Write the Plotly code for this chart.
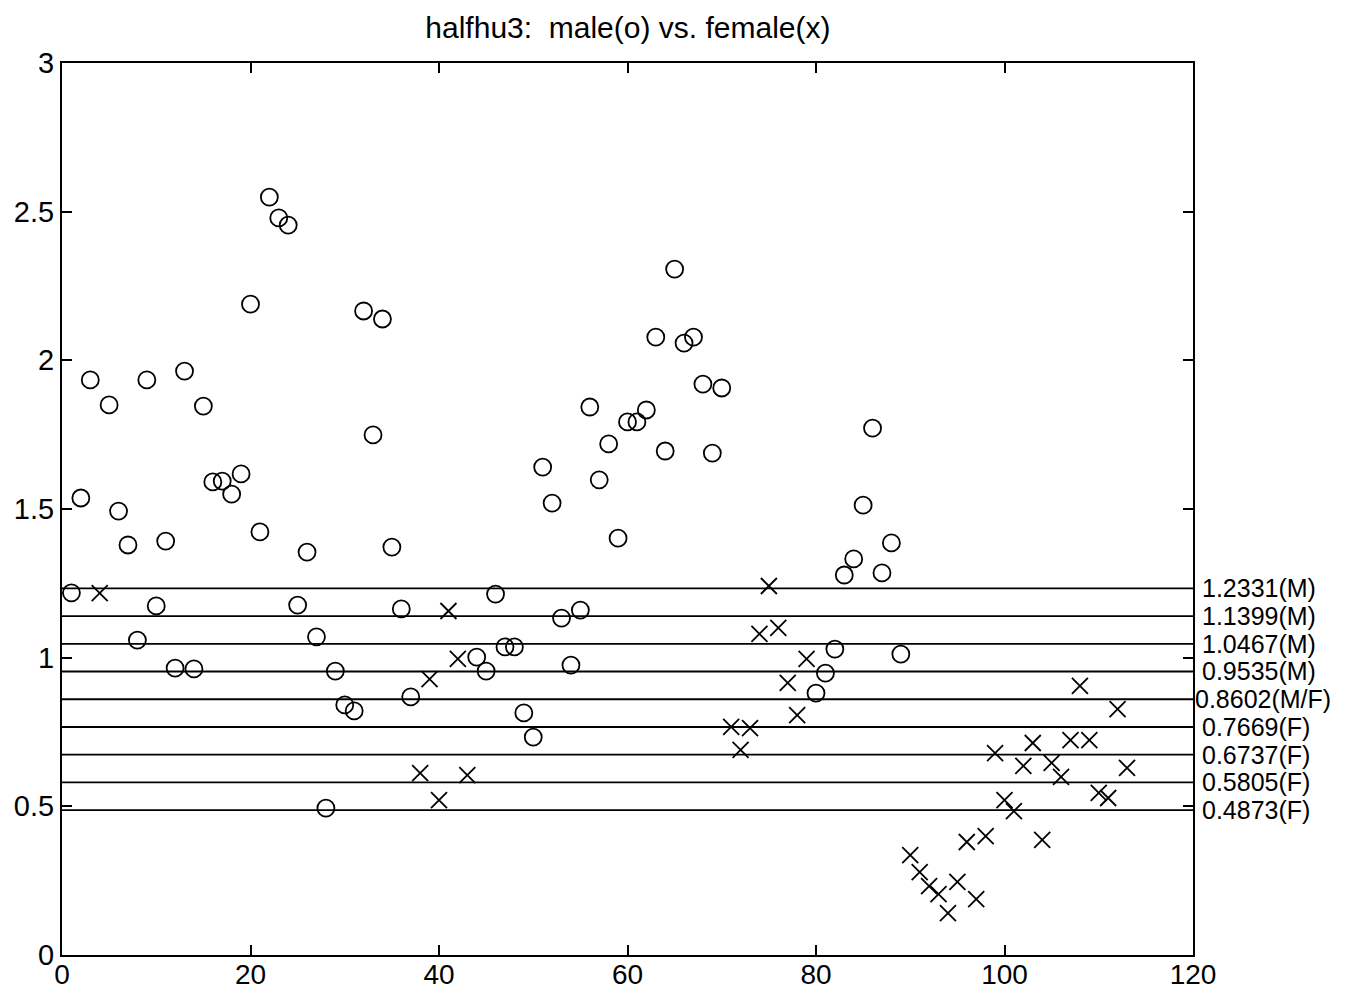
import plotly.graph_objects as go

# Male samples (circles): index, value
male_x = [1, 2, 3, 5, 6, 7, 8, 9, 10, 11, 12, 13, 14, 15, 16, 17, 18, 19, 20, 21,
          22, 23, 24, 25, 26, 27, 28, 29, 30, 31, 32, 33, 34, 35, 36, 37,
          44, 45, 46, 47, 48, 49, 50, 51, 52, 53, 54, 55, 56, 57, 58, 59, 60,
          61, 62, 63, 64, 65, 66, 67, 68, 69, 70,
          80, 81, 82, 83, 84, 85, 86, 87, 88, 89]
male_y = [1.218, 1.537, 1.934, 1.850, 1.493, 1.379, 1.059, 1.934, 1.174, 1.392,
          0.965, 1.964, 0.962, 1.846, 1.591, 1.594, 1.550, 1.618, 2.189, 1.423,
          2.549, 2.479, 2.455, 1.177, 1.355, 1.070, 0.494, 0.955, 0.841, 0.821,
          2.166, 1.749, 2.139, 1.372, 1.164, 0.868,
          1.002, 0.955, 1.214, 1.036, 1.036, 0.814, 0.733, 1.641, 1.520, 1.133,
          0.975, 1.160, 1.843, 1.598, 1.719, 1.402, 1.793,
          1.793, 1.833, 2.078, 1.695, 2.307, 2.058, 2.078, 1.920, 1.688, 1.907,
          0.881, 0.948, 1.029, 1.278, 1.332, 1.513, 1.772, 1.285, 1.386, 1.012]

# Female samples (crosses): index, value
female_x = [4, 38, 39, 40, 41, 42, 43, 71, 72, 73, 74, 75, 76, 77, 78, 79,
            90, 91, 92, 93, 94, 95, 96, 97, 98, 99, 100, 101, 102, 103, 104,
            105, 106, 107, 108, 109, 110, 111, 112, 113]
female_y = [1.217, 0.612, 0.928, 0.521, 1.157, 0.996, 0.605, 0.767, 0.690, 0.763,
            1.080, 1.241, 1.100, 0.915, 0.807, 0.996,
            0.336, 0.279, 0.232, 0.205, 0.141, 0.246, 0.380, 0.188, 0.400, 0.679,
            0.521, 0.484, 0.636, 0.713, 0.387, 0.646, 0.599, 0.723, 0.905, 0.723,
            0.545, 0.528, 0.827, 0.629]

# Threshold lines and their labels
thresholds = [1.2331, 1.1399, 1.0467, 0.9535, 0.8602, 0.7669, 0.6737, 0.5805, 0.4873]
threshold_labels = ["1.2331(M)", "1.1399(M)", "1.0467(M)", "0.9535(M)", "0.8602(M/F)",
                    "0.7669(F)", "0.6737(F)", "0.5805(F)", "0.4873(F)"]

x_range = [0, 120]
y_range = [0, 3]
x_ticks = [0, 20, 40, 60, 80, 100, 120]
y_ticks = [0, 0.5, 1, 1.5, 2, 2.5, 3]
y_tick_text = ["0", "0.5", "1", "1.5", "2", "2.5", "3"]

FONT = "Liberation Sans, Arial, Helvetica, sans-serif"

fig = go.Figure()

for t in thresholds:
    fig.add_trace(go.Scatter(x=x_range, y=[t, t], mode="lines",
                             line=dict(color="black", width=1.8),
                             showlegend=False, hoverinfo="skip"))

fig.add_trace(go.Scatter(x=male_x, y=male_y, mode="markers", name="male",
                         marker=dict(symbol="circle-open", size=17, color="black",
                                     line=dict(width=1.8, color="black")),
                         showlegend=False))
fig.add_trace(go.Scatter(x=female_x, y=female_y, mode="markers", name="female",
                         marker=dict(symbol="x-thin-open", size=16, color="black",
                                     line=dict(width=1.8, color="black")),
                         showlegend=False))

for t, lab in zip(thresholds, threshold_labels):
    shift = 1 if "M/F" in lab else 8
    fig.add_annotation(x=1, xref="paper", y=t, yref="y", text=lab,
                       showarrow=False, xanchor="left", yanchor="middle",
                       xshift=shift, borderpad=0,
                       font=dict(family=FONT, size=25, color="black"))

fig.update_layout(
    width=1346, height=992,
    paper_bgcolor="white", plot_bgcolor="white",
    margin=dict(l=62, r=153, t=63, b=37, autoexpand=False),
    font=dict(family=FONT, size=29, color="black"),
    title=dict(text="halfhu3:  male(o) vs. female(x)", x=0.4665, xanchor="center",
               y=0.972, yanchor="middle", font=dict(family=FONT, size=30, color="black")),
    showlegend=False,
)
fig.update_xaxes(range=x_range, tickvals=x_ticks, ticks="inside", ticklen=10,
                 tickwidth=1.5, tickcolor="black", showline=True, linecolor="black",
                 linewidth=2, mirror="ticks", showgrid=False, zeroline=False,
                 automargin=False, ticklabelstandoff=-7,
                 tickfont=dict(family=FONT, size=28, color="black"))
fig.update_yaxes(range=y_range, tickvals=y_ticks, ticktext=y_tick_text, ticks="inside",
                 ticklen=10, tickwidth=1.5, tickcolor="black", showline=True,
                 linecolor="black", linewidth=2, mirror="ticks", showgrid=False,
                 zeroline=False, automargin=False,
                 tickfont=dict(family=FONT, size=29, color="black"))

fig.write_html("out.html", config={"displayModeBar": False},
               post_script="document.body.style.margin='0';document.body.style.padding='0';")
